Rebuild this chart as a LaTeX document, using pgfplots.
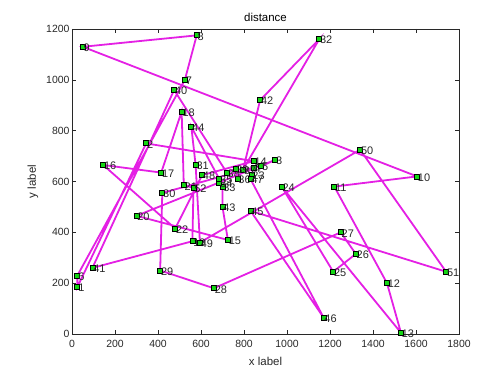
\documentclass[border=0pt]{standalone}
\usepackage{pgfplots}
\pgfplotsset{compat=1.18}
\usepackage{pgfplotstable}
\usepackage{fontspec}
\setmainfont{Liberation Sans}

\definecolor{route}{RGB}{228,32,228}
\definecolor{cityfill}{RGB}{20,215,20}
\definecolor{axgray}{RGB}{40,40,40}

% city positions (label x y)
\pgfplotstableread{
id x y
1 25 185
2 345 750
3 945 685
4 845 655
5 880 660
6 25 230
7 525 1000
8 580 1175
9 50 1130
10 1605 620
11 1220 580
12 1465 200
13 1530 5
14 845 680
15 725 370
16 145 665
17 415 635
18 510 875
19 560 365
20 300 465
21 520 585
22 480 415
23 835 625
24 975 580
25 1215 245
26 1320 315
27 1250 400
28 660 180
29 410 250
30 420 555
31 575 665
32 1150 1160
33 700 580
34 685 595
35 685 610
36 770 610
37 795 645
38 720 635
39 760 650
40 475 960
41 95 260
42 875 920
43 700 500
44 555 815
45 830 485
46 1170 65
47 830 610
48 605 625
49 595 360
50 1340 725
51 1740 245
52 565 575
}\cities

\begin{document}
\begin{tikzpicture}[x=1bp,y=1bp]
\path[use as bounding box] (-72,-42) rectangle (426,334);
\begin{axis}[
    at={(0,0)}, anchor=south west,
    scale only axis,
    width=387bp, height=305bp,
    xmin=0, xmax=1800,
    ymin=0, ymax=1200,
    xtick={0,200,...,1800},
    ytick={0,200,...,1200},
    tick align=inside,
    major tick length=4bp,
    axis line style={axgray, line width=0.5bp},
    every tick/.style={axgray, line width=0.5bp},
    ticklabel style={font=\fontsize{10.5}{12}\selectfont, text=axgray},
    xticklabel style={yshift=-2.5bp},
    yticklabel style={xshift=1bp},
    /pgf/number format/assume math mode=true,
    /pgf/number format/1000 sep={},
    title={distance},
    title style={font=\fontsize{11.5}{13}\selectfont, text=black, yshift=-2bp},
    xlabel={x label},
    ylabel={y label},
    label style={font=\fontsize{11.5}{13}\selectfont, text=axgray},
    xlabel style={yshift=-3bp},
    ylabel style={yshift=1bp},
    clip=false,
]

% tour
\addplot[route, line width=1.8bp] coordinates {
    (345,750) (25,185) (25,230) (525,1000) (580,1175) (50,1130)
    (1605,620) (1220,580) (1465,200) (1530,5) (975,580) (1215,245)
    (1320,315) (1250,400) (660,180) (410,250) (420,555) (845,655)
    (835,625) (830,610) (1170,65) (830,485) (1740,245) (1340,725)
    (595,360) (575,665) (555,815) (685,610) (685,595) (700,580)
    (700,500) (725,370) (300,465) (945,685) (880,660) (795,645)
    (875,920) (1150,1160) (770,610) (760,650) (720,635) (475,960)
    (95,260) (560,365) (565,575) (520,585) (510,875) (415,635)
    (145,665) (480,415) (605,625) (845,680) (345,750)
};

% cities with labels
\addplot[
    only marks,
    mark=square*,
    mark size=2.5bp,
    mark options={fill=cityfill, draw=black, line width=0.8bp},
    nodes near coords,
    point meta=explicit symbolic,
    nodes near coords style={anchor=west, xshift=-0.5bp, yshift=-1bp, inner sep=1bp,
        font=\fontsize{11}{12}\selectfont, text=axgray},
] table[x=x, y=y, meta=id] {\cities};

\end{axis}
\end{tikzpicture}
\end{document}
